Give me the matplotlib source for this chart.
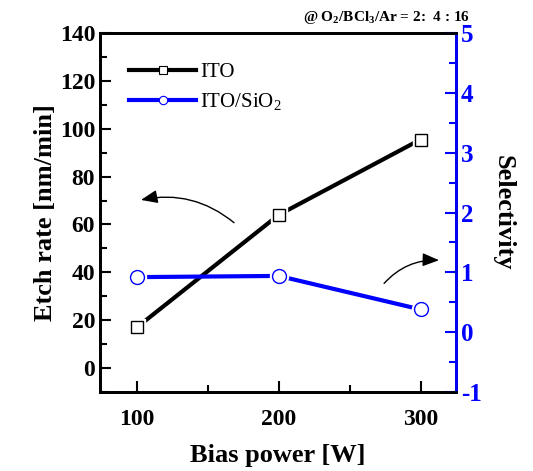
import matplotlib.pyplot as plt
import numpy as np
from matplotlib.lines import Line2D

plt.rcParams['font.family'] = ['Liberation Serif', 'DejaVu Serif']
plt.rcParams['font.weight'] = 'bold'
plt.rcParams['mathtext.fontset'] = 'custom'
plt.rcParams['mathtext.rm'] = 'Liberation Serif:bold'
plt.rcParams['mathtext.default'] = 'rm'
plt.rcParams['axes.unicode_minus'] = False

bias = [100, 200, 300]
etch_ito = [17, 64, 95.5]
selectivity = [0.92, 0.94, 0.38]

BLUE = '#0000ff'

fig = plt.figure(figsize=(5.33, 4.71), dpi=100)
ax = fig.add_axes([100 / 533, 1 - 392 / 471, 356 / 533, 359 / 471])
ax2 = ax.twinx()

# white halos behind markers give the gap between line and marker
ax.plot(bias, etch_ito, color='k', lw=3, zorder=2)
ax.plot(bias, etch_ito, ls='none', marker='s', ms=12, mfc='white', mec='white', zorder=3)
ax.plot(bias, etch_ito, ls='none', marker='s', ms=8.5, mfc='white', mec='k', mew=1, zorder=4)
ax2.plot(bias, selectivity, color=BLUE, lw=3, zorder=2)
ax2.plot(bias, selectivity, ls='none', marker='o', ms=13, mfc='white', mec='white', zorder=3)
ax2.plot(bias, selectivity, ls='none', marker='o', ms=10, mfc='white', mec=BLUE, mew=1, zorder=4)

ax.set_xlim(74, 325)
ax.set_ylim(-10, 140)
ax2.set_ylim(-1, 5)
ax.set_xticks([100, 200, 300])
ax.set_xticks([150, 250], minor=True)
ax.set_yticks(np.arange(0, 141, 20))
ax.set_yticks(np.arange(-10, 141, 10), minor=True)
ax2.set_yticks(np.arange(-1, 6, 1))
ax2.set_yticks(np.arange(-1, 5.1, 0.5), minor=True)

ax.tick_params(axis='both', which='both', direction='in', width=1.5, labelsize=17, top=False)
ax.tick_params(which='major', length=8)
ax.tick_params(which='minor', length=5)
ax.tick_params(axis='x', pad=12)
ax2.tick_params(axis='y', which='both', direction='in', width=1.5, colors=BLUE, labelsize=18)
ax2.tick_params(which='major', length=8)
ax2.tick_params(which='minor', length=5)
for a in (ax, ax2):
    for sp in a.spines.values():
        sp.set_linewidth(2)
ax2.spines['right'].set_color(BLUE)

ax.set_xlabel('Bias power [W]', fontsize=19, fontweight='bold', labelpad=10)
ax.set_ylabel('Etch rate [nm/min]', fontsize=19, fontweight='bold', labelpad=2)
ax2.set_ylabel('Selectivity', fontsize=19, fontweight='bold', rotation=-90, labelpad=24)

h1 = Line2D([], [], color='k', lw=3, marker='s', ms=6, mfc='white', mec='k', mew=0.8)
h2 = Line2D([], [], color=BLUE, lw=3, marker='o', ms=6, mfc='white', mec=BLUE, mew=0.8)
leg = ax.legend([h1, h2], ['ITO', r'ITO/SiO$_\mathregular{2}$'], loc='upper left', frameon=False,
                prop={'family': 'Liberation Serif', 'weight': 'normal', 'size': 15},
                handlelength=3.2, handletextpad=0.2, labelspacing=0.45,
                bbox_to_anchor=(0.03, 0.97))

ax.annotate('', xy=(101, 70), xytext=(170, 60),
            arrowprops=dict(arrowstyle='-|>,head_length=1.0,head_width=0.4', color='k',
                            lw=1, connectionstyle='arc3,rad=0.25'))
ax.annotate('', xy=(315, 45), xytext=(273, 34.5),
            arrowprops=dict(arrowstyle='-|>,head_length=1.0,head_width=0.4', color='k',
                            lw=1, connectionstyle='arc3,rad=-0.25'))

fig.text(0.725, 0.963, '@ O$_2$/BCl$_3$/Ar = 2:  4 : 16', fontsize=11, fontweight='bold',
         ha='center', va='center')

fig.savefig('out.png', dpi=100)
